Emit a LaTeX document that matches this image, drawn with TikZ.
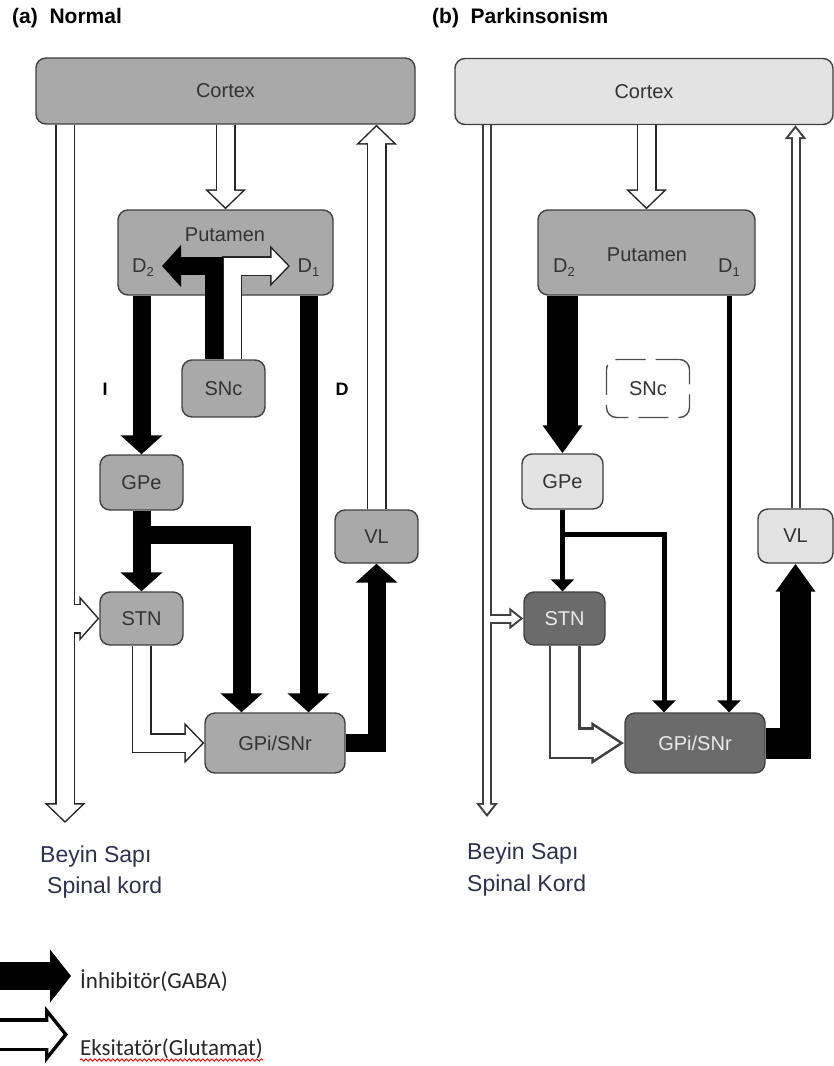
\documentclass[tikz,border=0pt]{standalone}
\usepackage{fontspec}
\setmainfont{Liberation Sans}
\newfontfamily\legfont{Carlito}
\usetikzlibrary{arrows.meta,calc,decorations.pathmorphing}

\definecolor{boxmid}{HTML}{A9A9A9}
\definecolor{boxlite}{HTML}{E3E3E3}
\definecolor{boxdark}{HTML}{6B6B6B}
\definecolor{navytxt}{HTML}{2E3050}

\newcommand{\nodefont}{\fontsize{20}{24}\selectfont}
\newcommand{\dsub}[1]{D\raisebox{-4pt}{\fontsize{13}{13}\selectfont #1}}

\tikzset{
  box/.style={draw=black!75, line width=1.4pt, rounded corners=10pt, inner sep=0pt,
    text=black!80, font=\nodefont},
  lbl/.style={inner sep=0pt, text=black!80, font=\nodefont},
  title/.style={inner sep=0pt, font=\fontsize{21}{25}\selectfont\bfseries},
  nuc/.style={minimum width=83pt, minimum height=55pt},
  inh/.style={draw=black, line width=18pt, -{Triangle[width=41pt,length=19pt]}},
  inhwide/.style={draw=black, line width=31pt, -{Triangle[width=38pt,length=28pt]}},
  inhthin/.style={draw=black, line width=5pt, -{Triangle[width=23pt,length=12pt]}},
  inhleg/.style={draw=black, line width=28pt, -{Triangle[width=52pt,length=21pt]}},
  % hollow arrows: black outline drawn first, white body on top
  exc/.style={draw=white, line width=17pt, shorten >=2.1pt,
    -{Triangle[width=32.8pt,length=16.4pt]},
    preaction={draw=black!85, line width=20pt, shorten >=0pt,
      -{Triangle[width=40pt,length=20pt]}}},
  excwide/.style={draw=white, line width=27pt, shorten >=2.03pt,
    -{Triangle[width=36.2pt,length=16.5pt]},
    preaction={draw=black!85, line width=30pt, shorten >=0pt,
      -{Triangle[width=44pt,length=20pt]}}},
  excthin/.style={draw=white, line width=6pt, shorten >=3.33pt,
    -{Triangle[width=13pt,length=8.7pt]},
    preaction={draw=black!75, line width=10pt, shorten >=0pt,
      -{Triangle[width=21pt,length=14pt]}}},
  excfat/.style={draw=white, line width=27pt, shorten >=4.83pt,
    -{Triangle[width=31.1pt,length=25.7pt]},
    preaction={draw=black!75, line width=32pt, shorten >=0pt,
      -{Triangle[width=40pt,length=33pt]}}},
  excleg/.style={draw=white, line width=26pt, shorten >=4.53pt,
    -{Triangle[width=36.4pt,length=15pt]},
    preaction={draw=black, line width=33pt, shorten >=0pt,
      -{Triangle[width=56pt,length=23pt]}}},
  stem/.style={inner sep=0pt, text=navytxt, font=\fontsize{23}{27}\selectfont},
  legtxt/.style={inner sep=0pt, text=black!85, font=\legfont\fontsize{23}{27}\selectfont},
  spell/.style={draw=red, line width=0.9pt, decorate,
    decoration={snake, amplitude=1.2pt, segment length=4.5pt}}
}

\begin{document}
\begin{tikzpicture}[x=1pt,y=-1pt]
\useasboundingbox (0,0) rectangle (834,1066);

% ---------- (a) Normal ----------
\node[title, anchor=base west] (ttlA) at (12,23) {(a)\ \ Normal};
\node[box, fill=boxmid, minimum width=379pt, minimum height=66pt] (cortexA) at (225.5,91) {Cortex};
\node[box, fill=boxmid, minimum width=215pt, minimum height=85pt] (putA) at (225.5,252.5) {};
\node[box, fill=boxmid, nuc, minimum height=57pt] (sncA) at (223.5,388.5) {SNc};
\node[box, fill=boxmid, nuc] (gpeA) at (141.5,482.5) {GPe};
\node[box, fill=boxmid, nuc, minimum height=53pt] (stnA) at (141.5,618.5) {STN};
\node[box, fill=boxmid, minimum width=140pt, minimum height=60pt] (gpiA) at (275,743) {GPi/SNr};
\node[box, fill=boxmid, nuc, minimum height=53pt] (vlA) at (376.5,536.5) {VL};
\node[lbl] (ptxA) at (225,235) {Putamen};
\node[lbl] (d2A) at (143,268) {\dsub{2}};
\node[lbl] (d1A) at (308.5,268) {\dsub{1}};
\node[lbl, font=\fontsize{18}{20}\selectfont\bfseries, text=black] (indA) at (105,389) {I};
\node[lbl, font=\fontsize{18}{20}\selectfont\bfseries, text=black] (dirA) at (342,389) {D};

\coordinate (bsA) at (65,823);
\coordinate (tipD2A) at (162,266);
\coordinate (tipD1A) at (290,266);
\coordinate (brA) at (241.5,534.5);

\draw[exc] (bsA |- cortexA.south) -- (bsA);
\draw[excwide] ($(bsA |- stnA.west)+(8.5,0)$) -- (stnA.west);
\draw[exc] (putA.north |- cortexA.south) -- (putA.north);
\draw[exc] (vlA.north) -- (vlA.north |- cortexA.south);
\draw[exc] (stnA.south) |- (gpiA.west);
\draw[exc] ([xshift=8.5pt]sncA.north) |- (tipD1A);
\draw[inh] ([xshift=-9.5pt]sncA.north) |- (tipD2A);
\draw[inh] (putA.south -| gpeA.north) -- (gpeA.north);
\draw[inh] (gpeA.south) |- (brA) -- (brA |- gpiA.north);
\draw[inh] (gpeA.south) -- (stnA.north);
\draw[inh] (putA.south -| d1A) -- (gpiA.north -| d1A);
\draw[inh] (gpiA.east) -| (vlA.south);

\node[stem, anchor=base west] (stemA1) at (40,862) {Beyin Sapı};
\node[stem, anchor=base west] (stemA2) at (47,893) {Spinal kord};

% ---------- (b) Parkinsonism ----------
\node[title, anchor=base west] (ttlB) at (432,23) {(b)\ \ Parkinsonism};
\node[box, fill=boxlite, minimum width=378pt, minimum height=66pt] (cortexB) at (644,91.5) {Cortex};
\node[box, fill=boxmid, minimum width=217pt, minimum height=85pt] (putB) at (646.5,252.5) {};
\node[box, draw=black!70, dash pattern=on 30pt off 10pt, dash phase=6pt, nuc, minimum height=58pt] (sncB) at (648,388.5) {SNc};
\node[box, fill=boxlite, nuc, minimum width=81pt] (gpeB) at (562.5,481.5) {GPe};
\node[box, fill=boxdark, nuc, minimum width=81pt, minimum height=53pt, text=white!92!black] (stnB) at (564.5,618.5) {STN};
\node[box, fill=boxdark, minimum width=140pt, minimum height=60pt, text=white!92!black] (gpiB) at (695,743) {GPi/SNr};
\node[box, fill=boxlite, minimum width=75pt, minimum height=54pt] (vlB) at (795.5,536) {VL};
\node[lbl] (ptxB) at (647,255) {Putamen};
\node[lbl] (d2B) at (564,268) {\dsub{2}};
\node[lbl] (d1B) at (729,268) {\dsub{1}};

\coordinate (bsB) at (487,817);
\coordinate (brB) at (664,534);

\draw[excthin] (bsB |- cortexB.south) -- (bsB);
\draw[excthin] ($(bsB |- stnB.west)+(3,0)$) -- (stnB.west);
\draw[exc] (putB.north |- cortexB.south) -- (putB.north);
\draw[excthin] (vlB.north) -- (vlB.north |- cortexB.south);
\draw[excfat] (stnB.south) |- (gpiB.west);
\draw[inhwide] (putB.south -| gpeB.north) -- (gpeB.north);
\draw[inhthin] (gpeB.south) |- (brB) -- (brB |- gpiB.north);
\draw[inhthin] (gpeB.south) -- (gpeB.south |- stnB.north);
\draw[inhthin] (putB.south -| d1B) -- (gpiB.north -| d1B);
\draw[inhwide] (gpiB.east) -| (vlB.south);

\node[stem, anchor=base west] (stemB1) at (467,859) {Beyin Sapı};
\node[stem, anchor=base west] (stemB2) at (467,891) {Spinal Kord};

% ---------- legend ----------
\coordinate (lgA0) at (0,976);
\coordinate (lgA1) at (71,976);
\coordinate (lgB0) at (0,1034.5);
\coordinate (lgB1) at (68,1034.5);
\draw[inhleg] (lgA0) -- (lgA1);
\draw[excleg] (lgB0) -- (lgB1);
\node[legtxt, anchor=base west] (legInh) at (80,988) {İnhibitör(GABA)};
\node[legtxt, anchor=base west] (legExc) at (80,1055) {Eksitatör(Glutamat)};
\draw[spell] ([yshift=-5pt]legExc.base west) -- ([yshift=-5pt]legExc.base east);
\end{tikzpicture}
\end{document}
